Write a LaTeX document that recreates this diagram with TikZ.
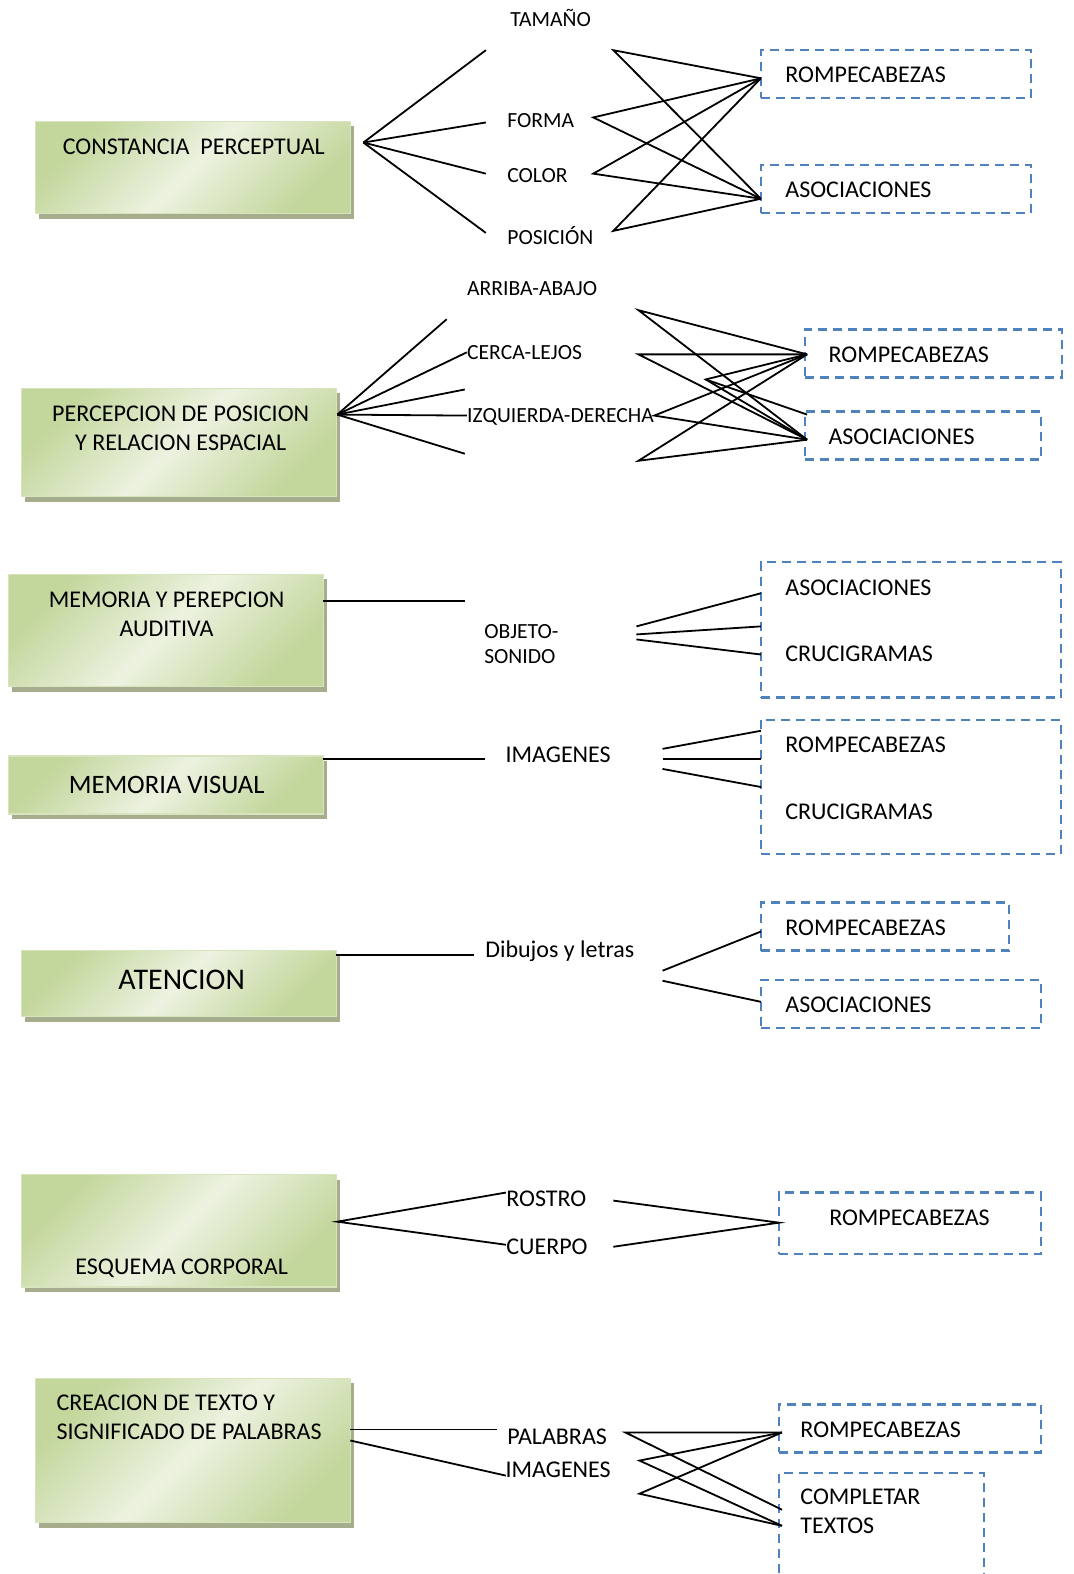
\documentclass[tikz,border=0pt]{standalone}
\usepackage{fontspec}
\setmainfont{Carlito}
\usetikzlibrary{shadows}
\definecolor{boxgreen}{RGB}{195,214,155}
\definecolor{boxlight}{RGB}{236,242,224}
\definecolor{boxedge}{RGB}{215,228,189}
\definecolor{boxshadow}{RGB}{166,173,140}
\definecolor{dashblue}{RGB}{79,129,189}
\tikzset{
  greenbox/.style={draw=boxedge, line width=0.6pt, top color=boxgreen, bottom color=boxgreen,
    middle color=boxlight, shading angle=45,
    general shadow={fill=boxshadow, shadow xshift=2pt, shadow yshift=-2.5pt},
    minimum width=157.5pt, inner sep=0pt},
  optbox/.style={draw=dashblue, line width=1.2pt, dash pattern=on 4.5pt off 3pt, inner sep=0pt},
  ttl/.style={font=\fontsize{12}{14.5}\selectfont, inner sep=0pt, text height=7.7pt, text depth=0pt},
  ttlm/.style={font=\fontsize{12}{14.5}\selectfont, inner sep=0pt},
  lbl/.style={font=\fontsize{10.8}{12.5}\selectfont, inner sep=0pt, text height=7pt, text depth=0pt},
  lblm/.style={font=\fontsize{10.8}{12.5}\selectfont, inner sep=0pt},
  opt/.style={font=\fontsize{12}{14.5}\selectfont, inner sep=0pt, text height=7.7pt, text depth=0pt},
  wire/.style={line width=0.9pt}
}

\begin{document}
\begin{tikzpicture}[x=0.50187pt,y=-0.50187pt]
\useasboundingbox (0,0) rectangle (1069,1568);

% constancia perceptual
\node[greenbox, minimum height=46.2pt] (cp) at (192,167) {};
\node[ttl] (cpt) at (193,146) {CONSTANCIA\ \ PERCEPTUAL};
\node[lbl, anchor=west] (tam) at (508,19) {TAMAÑO};
\node[lbl, anchor=west] (for) at (505,120) {FORMA};
\node[lbl, anchor=west] (col) at (505,175) {COLOR};
\node[lbl, anchor=west] (pos) at (505,237) {POSICIÓN};
\node[optbox, minimum width=135pt, minimum height=24pt] (r1) at (892.5,74) {};
\node[opt, anchor=west] (r1t) at (782,75) {ROMPECABEZAS};
\node[optbox, minimum width=135pt, minimum height=24pt] (a1) at (892.5,188) {};
\node[opt, anchor=west] (a1t) at (782,189) {ASOCIACIONES};
\coordinate (cpo) at (362,142);
\coordinate (taml) at (484,50); \coordinate (tamr) at (611,50);
\coordinate (forl) at (484,122); \coordinate (forr) at (591,117);
\coordinate (coll) at (484,173); \coordinate (colr) at (591,173);
\coordinate (posl) at (484,232); \coordinate (posr) at (611,230);
\coordinate (r1in) at (758,78); \coordinate (a1in) at (758,198);
\foreach \c in {taml,forl,coll,posl} \draw[wire] (cpo) -- (\c);
\foreach \c in {tamr,forr,colr,posr} \draw[wire] (r1in) -- (\c) -- (a1in);

% posicion y relacion espacial
\node[greenbox, minimum height=54.2pt] (pe) at (178,441) {};
\node[ttlm, align=center, anchor=base] (pet) at (180,449) {PERCEPCION DE POSICION\\Y RELACION ESPACIAL};
\node[lbl, anchor=west] (arr) at (465,287) {ARRIBA-ABAJO};
\node[lbl, anchor=west] (cer) at (465,351) {CERCA-LEJOS};
\node[lbl, anchor=west] (izq) at (465,414) {IZQUIERDA-DERECHA};
\node[optbox, minimum width=128.5pt, minimum height=24pt] (r2) at (930,352) {};
\node[opt, anchor=west] (r2t) at (825,353) {ROMPECABEZAS};
\node[optbox, minimum width=118pt, minimum height=24pt] (a2) at (919.5,434) {};
\node[opt, anchor=west] (a2t) at (825,435) {ASOCIACIONES};
\coordinate (peo) at (336,413);
\coordinate (pe1) at (445,318); \coordinate (pe3) at (463,388); \coordinate (pe5) at (463,452);
\foreach \c in {pe1,cer.west,pe3,izq.west,pe5} \draw[wire] (peo) -- (\c);
\coordinate (pa) at (636,309); \coordinate (pb) at (636,353);
\coordinate (pk) at (703,378); \coordinate (pd) at (636,459);
\coordinate (r2in) at (804,353); \coordinate (a2in) at (804,438); \coordinate (a2top) at (804,413);
\foreach \c in {pa,pb,izq.east,pk,pd} \draw[wire] (r2in) -- (\c) -- (a2in);
\draw[wire] (pk) -- (a2top);

% memoria auditiva
\node[greenbox, minimum height=56.2pt] (ma) at (165,628) {};
\node[ttlm, align=center, anchor=base] (mat) at (166,634) {MEMORIA Y PEREPCION\\AUDITIVA};
\node[lblm, align=left, anchor=base west] (obj) at (482,661) {OBJETO-\\SONIDO};
\node[optbox, minimum width=150pt, minimum height=67.7pt] (b3) at (907.5,627.5) {};
\node[opt, anchor=west] (b3a) at (782,586) {ASOCIACIONES};
\node[opt, anchor=west] (b3c) at (782,651) {CRUCIGRAMAS};
\coordinate (mao) at (322,599); \coordinate (mai) at (463,599);
\draw[wire] (mao) -- (mai);
\coordinate (ob1) at (634,624); \coordinate (b31) at (758,591);
\coordinate (ob2) at (634,632); \coordinate (b32) at (758,624);
\coordinate (ob3) at (634,637); \coordinate (b33) at (758,652);
\draw[wire] (ob1) -- (b31);
\draw[wire] (ob2) -- (b32);
\draw[wire] (ob3) -- (b33);

% memoria visual
\node[greenbox, minimum height=29pt] (mv) at (165,782) {};
\node[ttl, font=\fontsize{13.3}{15}\selectfont, text height=8.6pt] (mvt) at (166,782) {MEMORIA VISUAL};
\node[opt] (img) at (556,752) {IMAGENES};
\node[optbox, minimum width=150pt, minimum height=67.2pt] (b4) at (907.5,784) {};
\node[opt, anchor=west] (b4r) at (782,742) {ROMPECABEZAS};
\node[opt, anchor=west] (b4c) at (782,809) {CRUCIGRAMAS};
\coordinate (mvo) at (322,756); \coordinate (mvi) at (483,756);
\draw[wire] (mvo) -- (mvi);
\coordinate (im1) at (660,746); \coordinate (b41) at (758,728);
\coordinate (im2) at (660,756); \coordinate (b42) at (758,756);
\coordinate (im3) at (660,766); \coordinate (b43) at (758,784);
\draw[wire] (im1) -- (b41);
\draw[wire] (im2) -- (b42);
\draw[wire] (im3) -- (b43);

% atencion
\node[greenbox, minimum height=33pt] (at) at (178,980) {};
\node[ttl, font=\fontsize{15}{17}\selectfont, text height=9.7pt] (att) at (181,976) {ATENCION};
\node[opt, anchor=west] (dib) at (483,946) {Dibujos y letras};
\node[optbox, minimum width=124pt, minimum height=24pt] (r5) at (881.5,923) {};
\node[opt, anchor=west] (r5t) at (782,924) {ROMPECABEZAS};
\node[optbox, minimum width=140pt, minimum height=24pt] (a5) at (897.5,1000) {};
\node[opt, anchor=west] (a5t) at (782,1001) {ASOCIACIONES};
\coordinate (ato) at (335,951); \coordinate (ati) at (472,951);
\draw[wire] (ato) -- (ati);
\coordinate (di1) at (660,967); \coordinate (r5in) at (758,928);
\coordinate (di2) at (660,977); \coordinate (a5in) at (758,998);
\draw[wire] (di1) -- (r5in);
\draw[wire] (di2) -- (a5in);

% esquema corporal
\node[greenbox, minimum height=56.2pt] (ec) at (178,1226) {};
\node[ttl] (ect) at (181,1262) {ESQUEMA CORPORAL};
\node[opt, anchor=west] (ros) at (504,1194) {ROSTRO};
\node[opt, anchor=west] (cue) at (504,1242) {CUERPO};
\node[optbox, minimum width=131pt, minimum height=30.6pt] (r6) at (906.5,1218.5) {};
\node[opt] (r6t) at (906,1213) {ROMPECABEZAS};
\coordinate (eco) at (336,1217);
\coordinate (rosl) at (504,1188); \coordinate (rosr) at (611,1196);
\coordinate (cuel) at (504,1240); \coordinate (cuer) at (611,1242);
\coordinate (r6in) at (776,1218);
\draw[wire] (rosl) -- (eco) -- (cuel);
\draw[wire] (rosr) -- (r6in) -- (cuer);

% creacion de texto
\node[greenbox, minimum height=72.3pt] (ct) at (192,1445) {};
\node[ttlm, align=left, anchor=base west] (ctt) at (56,1434) {CREACION DE TEXTO Y\\SIGNIFICADO DE PALABRAS};
\node[opt] (pal) at (555,1431) {PALABRAS};
\node[opt] (im7) at (556,1464) {IMAGENES};
\node[optbox, minimum width=131pt, minimum height=24pt] (r7) at (906.5,1423) {};
\node[opt, anchor=west] (r7t) at (797,1424) {ROMPECABEZAS};
\node[optbox, minimum width=102.4pt, minimum height=57pt] (c7) at (878,1524) {};
\node[ttlm, align=left, anchor=base west] (c7t) at (797,1528) {COMPLETAR\\TEXTOS};
\coordinate (cto1) at (349,1424); \coordinate (pall) at (495,1424);
\coordinate (cto2) at (349,1435); \coordinate (im7l) at (504,1470);
\draw[wire] (cto1) -- (pall);
\draw[wire] (cto2) -- (im7l);
\coordinate (cp1) at (623,1427); \coordinate (cq) at (637,1455); \coordinate (cs) at (637,1488);
\coordinate (r7in) at (779,1427); \coordinate (c7a) at (779,1504); \coordinate (c7b) at (779,1520);
\draw[wire] (r7in) -- (cp1) -- (c7a);
\foreach \c in {cq,cs} \draw[wire] (r7in) -- (\c) -- (c7b);
\end{tikzpicture}
\end{document}
